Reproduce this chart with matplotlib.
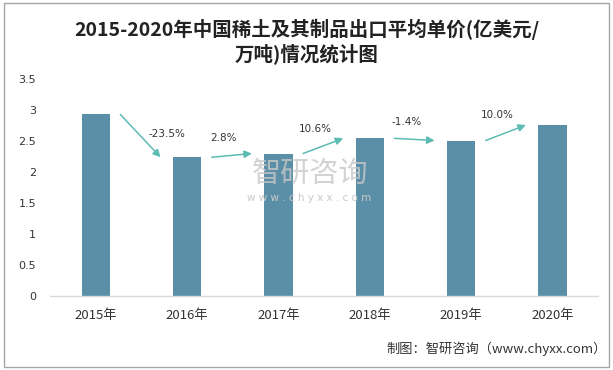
import matplotlib
matplotlib.use('Agg')
from matplotlib import pyplot as plt
from matplotlib.patches import Rectangle

plt.rcParams['font.family'] = ['Noto Sans CJK SC', 'DejaVu Sans']

# 数据
years = ['2015年', '2016年', '2017年', '2018年', '2019年', '2020年']
price = [2.93, 2.24, 2.30, 2.545, 2.51, 2.76]
growth = ['-23.5%', '2.8%', '10.6%', '-1.4%', '10.0%']
yticks = [0, 0.5, 1, 1.5, 2, 2.5, 3, 3.5]
ytick_labels = ['0', '0.5', '1', '1.5', '2', '2.5', '3', '3.5']

bar_color = '#5b8fa7'
arrow_color = '#5cbcb3'

fig = plt.figure(figsize=(6.13, 3.70), dpi=100)
ax = fig.add_axes([0.0816, 0.2, 0.894, 0.586])

x = list(range(len(years)))
ax.bar(x, price, width=0.31, color=bar_color, zorder=2)

# 增长率箭头
for i, g in enumerate(growth):
    x0, y0 = i + 0.27, price[i]
    x1, y1 = i + 0.71, price[i + 1]
    ax.annotate('', xy=(x1, y1), xytext=(x0, y0),
                arrowprops=dict(arrowstyle='-|>', color=arrow_color, lw=1.1,
                                mutation_scale=11, shrinkA=0, shrinkB=0),
                zorder=3)
    mx, my = (x0 + x1) / 2, (y0 + y1) / 2
    if i == 0:
        tx, ty = mx + 0.29, my + 0.03
    else:
        tx, ty = mx - 0.09, my + 0.28
    ax.text(tx, ty, g, ha='center', va='center', fontsize=7.5, color='#333333',
            family=['DejaVu Sans'])

ax.set_xlim(-0.5, len(years) - 0.5)
ax.set_ylim(0, 3.5)
ax.set_xticks(x)
ax.set_xticklabels(years, fontsize=9.5, color='#333333')
ax.set_yticks(yticks)
ax.set_yticklabels(ytick_labels, fontsize=8, color='#333333', family=['DejaVu Sans'])
ax.tick_params(axis='both', length=0)
ax.tick_params(axis='x', pad=9)
ax.tick_params(axis='y', pad=10)
for s in ['top', 'right', 'left']:
    ax.spines[s].set_visible(False)
ax.spines['bottom'].set_color('#d9d9d9')
ax.spines['bottom'].set_linewidth(1)

# 水印
fig.text(0.505, 0.53, '智研咨询', fontsize=21, color='#c8c8c8', alpha=0.8,
         ha='center', va='center', zorder=0)
fig.text(0.505, 0.465, 'w w w . c h y x x . c o m', fontsize=7.5, color='#c8c8c8',
         ha='center', va='center', zorder=0, family=['DejaVu Sans'])

# 标题
fig.text(0.5, 0.888, '2015-2020年中国稀土及其制品出口平均单价(亿美元/\n万吨)情况统计图',
         ha='center', va='center', fontsize=14, fontweight='bold',
         color='#222222', linespacing=1.2)

# 来源
fig.text(0.99, 0.057, '制图：智研咨询（www.chyxx.com）', ha='right', va='center',
         fontsize=9.5, color='#333333')

# 外框
fig.patches.append(Rectangle((0.007, 0.008), 0.986, 0.984, transform=fig.transFigure,
                             fill=False, edgecolor='#a6a6a6', linewidth=1))

plt.savefig('out.png', dpi=100)
